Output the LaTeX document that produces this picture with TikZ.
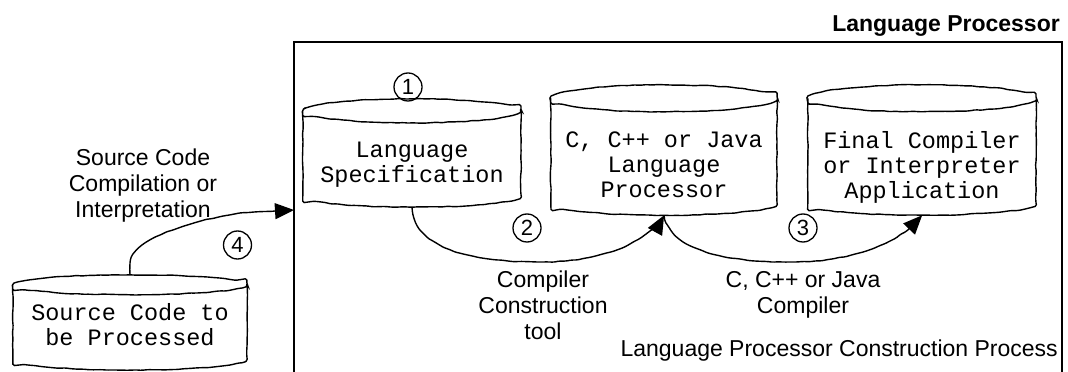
\documentclass[tikz,border=0pt]{standalone}
\usepackage{fontspec}
\setmainfont{Liberation Sans}
\newfontfamily\monof{Liberation Mono}
\usetikzlibrary{arrows.meta,decorations.pathmorphing,calc}
\tikzset{
  hand/.style={line width=1.4pt, decorate, decoration={random steps, segment length=6pt, amplitude=0.45pt}, rounded corners=1.5pt},
  body/.style={inner sep=0pt, draw=none},
  monolab/.style={font=\monof\fontsize{23.5}{25}\selectfont, align=center, inner sep=0pt},
  sanslab/.style={font=\fontsize{23}{26}\selectfont, align=center, inner sep=0pt},
  num/.style={circle, draw, line width=1.3pt, minimum size=28pt, inner sep=0pt, font=\fontsize{22}{22}\selectfont},
  tip/.style={-{Triangle[length=19pt,width=16pt]}},
}
% #1 node, #2 x radius, #3 top y radius, #4 bottom y radius
\newcommand\drum[4]{%
  \draw[hand] ($(#1.north)+(0,-#3)$) ellipse [x radius=#2pt, y radius=#3pt]
    ($(#1.north west)+(0,-#3)$) -- ($(#1.south west)+(0,#4)$)
    arc [start angle=180, end angle=360, x radius=#2pt, y radius=#4pt]
    -- ($(#1.north east)+(0,-#3)$);
}
\begin{document}
\begin{tikzpicture}[x=1pt,y=1pt]
\pgfmathsetseed{11}
\useasboundingbox (0,0) rectangle (1068,372);
% frame
\node[body, minimum width=768pt, minimum height=330pt] (frame) at (678,165) {};
\draw[line width=1.8pt] (frame.south west) -- (frame.north west) -- (frame.north east) -- (frame.south east);
\node[font=\bfseries\fontsize{23}{26}\selectfont, anchor=base east, inner sep=0pt] (title) at (1060,340) {Language Processor};
\node[sanslab, anchor=base east] (proc) at (1058,16) {Language Processor Construction Process};
% cylinders
\node[body, minimum width=218pt, minimum height=108pt] (ls) at (412,219) {};
\node[body, minimum width=226pt, minimum height=130pt] (cp) at (664,222) {};
\node[body, minimum width=228pt, minimum height=130pt] (fc) at (922,222) {};
\node[body, minimum width=234pt, minimum height=95pt] (sc) at (130,49.5) {};
\drum{ls}{109}{12}{12}
\drum{cp}{113}{13.5}{12}
\drum{fc}{114}{13.5}{12}
\drum{sc}{117}{10}{12}
\node[monolab] (lst) at (412,207) {Language\\Specification};
\node[monolab] (cpt) at (664,207) {C, C++ or Java\\Language\\Processor};
\node[monolab] (fct) at (922,205) {Final Compiler\\or Interpreter\\Application};
\node[monolab] (sct) at (130,47) {Source Code to\\be Processed};
% labels
\node[sanslab] (srclab) at (143,186) {Source Code\\Compilation or\\Interpretation};
\node[sanslab] (cctlab) at (543,66.4) {Compiler\\Construction\\tool};
\node[sanslab] (jclab) at (803,77) {C, C++ or Java\\Compiler};
% numbers
\node[num] (n1) at (408,285) {1};
\node[num] (n2) at (527,144) {2};
\node[num] (n3) at (803,144) {3};
\node[num] (n4) at (237.5,127) {4};
% connectors
\coordinate (entry) at (294,162);
\draw[hand, tip] (sc.north) -- ++(0,12) .. controls (135,130) and (175,148) .. (240,159) -- (entry);
\draw[hand, tip] (ls.south) .. controls (415,120) and (480,110) .. (540,110) .. controls (600,110) and (645,128) .. (cp.south);
\draw[hand, tip] (cp.south) .. controls (672,120) and (730,110) .. (790,110) .. controls (850,110) and (900,128) .. (fc.south);
\end{tikzpicture}
\end{document}
